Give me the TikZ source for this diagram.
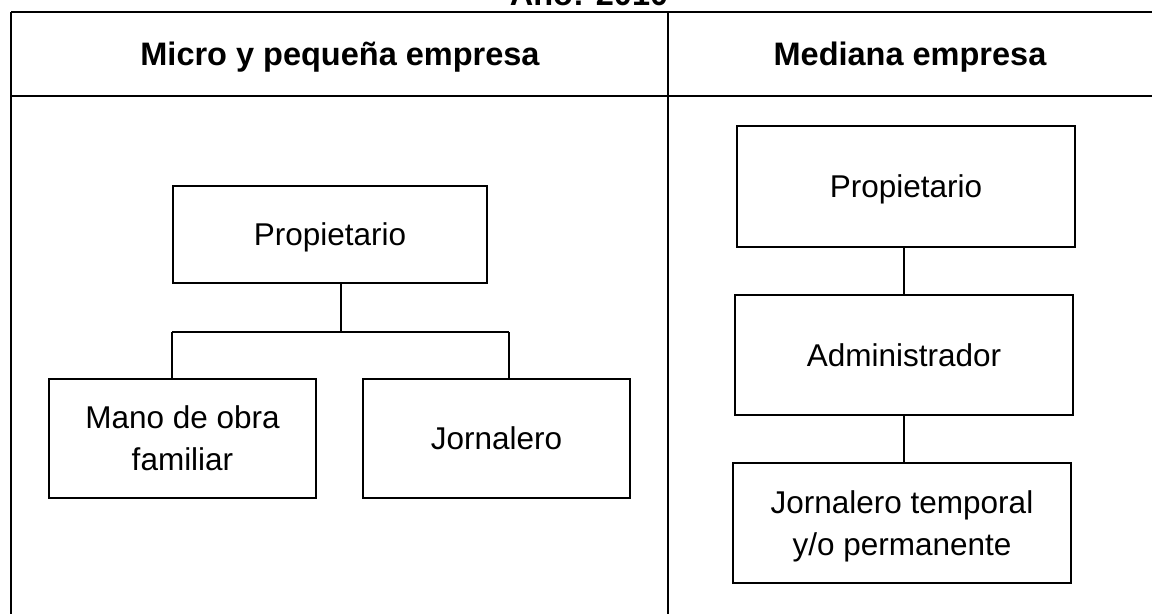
\documentclass[tikz,border=0pt]{standalone}
\usepackage{fontspec}
\setmainfont{Liberation Sans}
\begin{document}
\begin{tikzpicture}[x=1pt,y=-1pt,
  orgbox/.style={draw, line width=1.7pt, inner sep=0pt, align=center, text depth=0pt,
    font=\fontsize{31.5}{42}\selectfont},
  rule/.style={line width=1.3pt},
  conn/.style={line width=1.4pt},
  head/.style={font=\fontsize{32.5}{38}\selectfont\bfseries, inner sep=0pt}]
\useasboundingbox (0,0) rectangle (1152,614);
% title (cut off at top)
\node[head, anchor=base] (title) at (589,5) {Año: 2010};
% table rules
\draw[rule] (11,12) -- (1152,12);
\draw[rule] (11,96) -- (1152,96);
\draw[rule] (11,12) -- (11,614);
\draw[rule] (668,12) -- (668,614);
% headers
\node[head, text depth=0pt] (h1) at (340,54) {Micro y pequeña empresa};
\node[head, text depth=0pt] (h2) at (910,54) {Mediana empresa};
% left chart
\node[orgbox, minimum width=314pt, minimum height=97pt] (lp) at (330,234.5) {Propietario};
\node[orgbox, minimum width=267pt, minimum height=119pt] (mano) at (182.5,438.5) {Mano de obra\\familiar};
\node[orgbox, minimum width=267pt, minimum height=119pt] (jorn) at (496.5,438.5) {Jornalero};
\coordinate (bus) at (341,332);
\coordinate (busL) at (172,332);
\coordinate (busR) at (509,332);
\draw[conn] (bus |- lp.south) -- (bus);
\draw[conn] (busL) -- (busR);
\draw[conn] (busL) -- (busL |- mano.north);
\draw[conn] (busR) -- (busR |- jorn.north);
% right chart
\node[orgbox, minimum width=338pt, minimum height=121pt] (rp) at (906,186.5) {Propietario};
\node[orgbox, minimum width=338pt, minimum height=120pt] (ra) at (904,355) {Administrador};
\node[orgbox, minimum width=338pt, minimum height=120pt] (rj) at (902,523) {Jornalero temporal\\y/o permanente};
\draw[conn] (ra.north |- rp.south) -- (ra.north);
\draw[conn] (ra.south) -- (ra.south |- rj.north);
\end{tikzpicture}
\end{document}
